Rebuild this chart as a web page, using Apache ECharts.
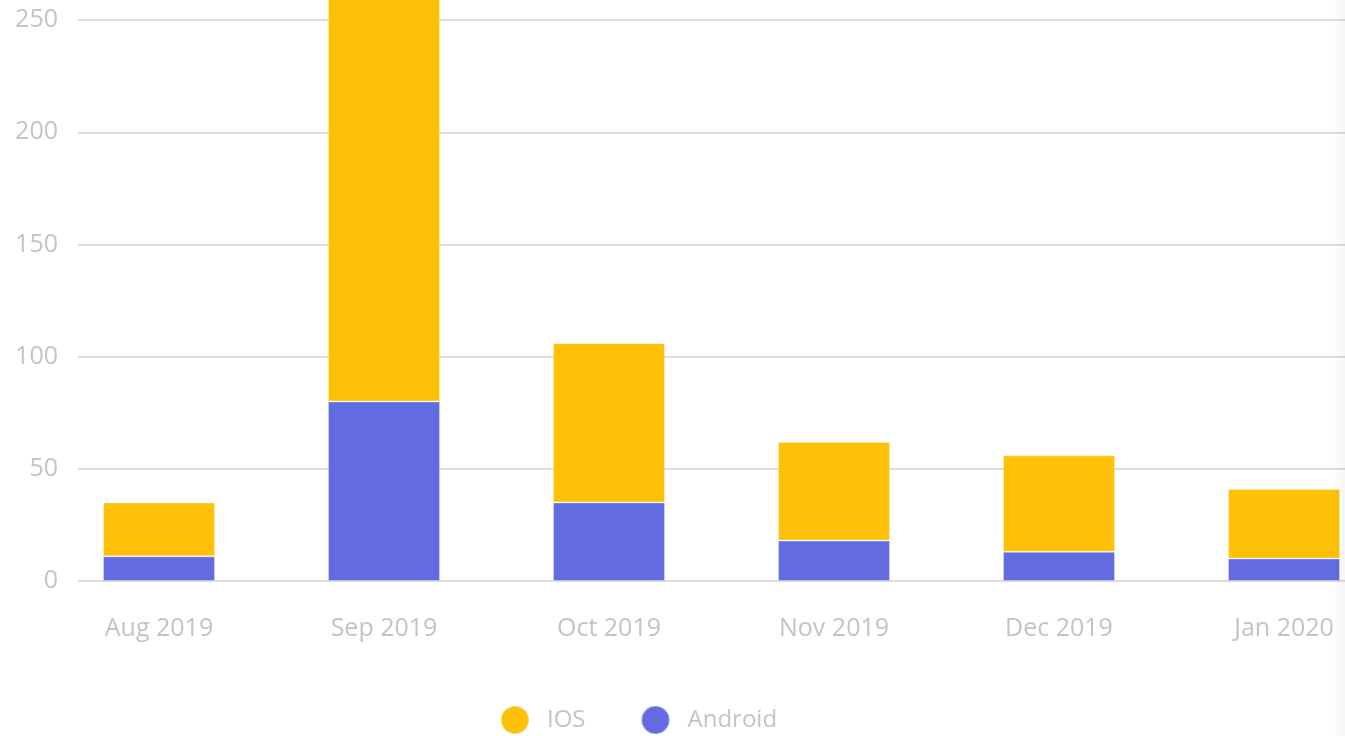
<!DOCTYPE html>
<html>
<head>
<meta charset="utf-8">
<script src="https://cdn.jsdelivr.net/npm/echarts@6/dist/echarts.min.js"></script>
<style>
  html, body { margin: 0; padding: 0; background: #fff; overflow: hidden; }
  #wrap { position: relative; width: 1345px; height: 736px; overflow: hidden; }
  #chart { position: absolute; left: 0; top: -100px; width: 1345px; height: 836px; }
  #edge { position: absolute; right: 0; top: 0; width: 12px; height: 736px;
          background: linear-gradient(to right, rgba(0,0,0,0), rgba(0,0,0,0.035)); pointer-events: none; }
</style>
</head>
<body>
<div id="wrap">
  <div id="chart"></div>
  <div id="edge"></div>
</div>
<script>
// months shown on the x axis
const months = ['Aug 2019', 'Sep 2019', 'Oct 2019', 'Nov 2019', 'Dec 2019', 'Jan 2020']
// downloads per platform
const android = [11, 80, 35, 18, 13, 10]
const ios = [24, 205, 71, 44, 43, 31]

const labelColor = '#c3c3cc'
const gridColor = '#dcdce2'
const font = 'Open Sans'

const chart = echarts.init(document.getElementById('chart'))

const option = {
  animation: false,
  backgroundColor: '#fff',
  // grid 0 carries the y labels and grid lines, grid 1 the bars (runs past the right edge)
  grid: [
    { left: 78, right: 0, top: 8, bottom: 155, outerBoundsMode: 'none' },
    { left: 46.5, width: 1350, top: 8, bottom: 155, outerBoundsMode: 'none' }
  ],
  legend: {
    left: 495,
    top: 800,
    icon: 'circle',
    itemWidth: 28,
    itemHeight: 28,
    itemGap: 55,
    data: ['IOS', 'Android'],
    textStyle: { color: labelColor, fontSize: 24, fontFamily: font, padding: [0, 0, 0, 13] }
  },
  xAxis: [
    {
      type: 'category',
      gridIndex: 0,
      data: months,
      show: false
    },
    {
      type: 'category',
      gridIndex: 1,
      data: months,
      axisLine: { show: false },
      axisTick: { show: false },
      axisLabel: { color: labelColor, fontSize: 25, fontFamily: font, margin: 35 }
    }
  ],
  yAxis: [
    {
      type: 'value',
      gridIndex: 0,
      min: 0,
      max: 300,
      interval: 50,
      axisLine: { show: false },
      axisTick: { show: false },
      splitLine: { lineStyle: { color: gridColor, width: 2 } },
      axisLabel: { color: labelColor, fontSize: 25, fontFamily: font, margin: 20 }
    },
    {
      type: 'value',
      gridIndex: 1,
      min: 0,
      max: 300,
      interval: 50,
      show: false,
      splitLine: { show: false }
    }
  ],
  series: [
    {
      name: 'Android',
      type: 'bar',
      xAxisIndex: 1,
      yAxisIndex: 1,
      stack: 'total',
      barWidth: 112,
      itemStyle: { color: '#636be0', borderColor: 'rgba(255,255,255,0.3)', borderWidth: 1 },
      data: android
    },
    {
      name: 'IOS',
      type: 'bar',
      xAxisIndex: 1,
      yAxisIndex: 1,
      stack: 'total',
      barWidth: 112,
      itemStyle: { color: '#fec107', borderColor: 'rgba(255,255,255,0.3)', borderWidth: 1 },
      data: ios
    }
  ]
}

chart.setOption(option)
</script>
</body>
</html>
